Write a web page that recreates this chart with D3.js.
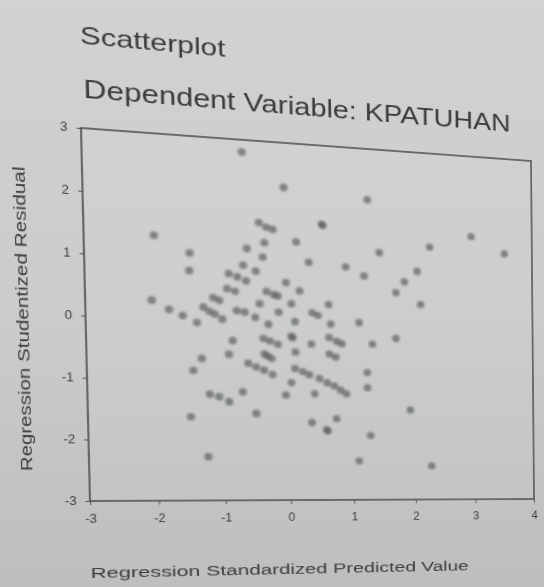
<!DOCTYPE html>
<html>
<head>
<meta charset="utf-8">
<script src="https://cdn.jsdelivr.net/npm/d3@7"></script>
<style>
  html, body { margin: 0; padding: 0; overflow: hidden; }
  body {
    width: 544px; height: 587px;
    background: linear-gradient(to bottom, #d0d3cf 0%, #c9ccc8 55%, #bcbfbb 100%);
    font-family: "Liberation Sans", Arial, sans-serif;
  }
  svg { position: absolute; left: 0; top: 0; transform-origin: 0 0; }
</style>
</head>
<body>
<div id="chart"></div>
<script>
// Regression Standardized Predicted Value (x) / Studentized Residual (y)
const predicted = [
  -0.66, -0.03, 1.28, -1.99, -0.42, -0.31, -0.21, 0.55, 0.57, 0.15,
  -0.34, 2.97, 2.28, 1.46, 3.53, -1.47, -0.61, -0.37, 0.34, 0.92,
  1.21, -1.48, -0.67, -0.48, 2.07, 1.86, 1.72, 2.12, -0.89, -0.76,
  -0.63, -0.02, 0.19, -0.92, -0.80, -0.32, -0.21, -0.15, -2.04, -1.79,
  -1.59, -1.38, -1.28, -1.19, -1.11, -1.13, -1.04, -1.00, -0.78, -0.66,
  -0.50, -0.43, -0.30, -0.14, 0.06, 0.11, 0.38, 0.47, 0.64, 0.67,
  1.12, -0.85, -0.91, -0.38, -0.28, -0.16, 0.05, 0.07, 0.11, 0.36,
  0.64, 0.76, 0.84, -0.37, -0.32, -0.26, 0.64, 0.74, 1.33, 1.71,
  -1.32, -1.45, -0.62, -0.50, -0.38, -0.25, 0.10, 0.22, 0.32, 0.04,
  0.48, 0.60, 0.71, 0.81, 0.90, 1.24, 1.24, -0.71, -1.21, -1.07,
  -0.92, -0.05, 0.40, -0.51, -1.50, 0.35, 0.58, 0.60, 0.74, 1.93,
  1.28, -1.25, 1.09, 2.27
];
const residual = [
  2.80, 2.26, 2.14, 1.35, 1.65, 1.58, 1.55, 1.68, 1.66, 1.36,
  1.32, 1.61, 1.39, 1.25, 1.34, 1.09, 1.21, 1.08, 1.03, 0.98,
  0.84, 0.80, 0.93, 0.84, 0.96, 0.77, 0.58, 0.39, 0.78, 0.73,
  0.67, 0.67, 0.54, 0.53, 0.49, 0.51, 0.46, 0.44, 0.29, 0.15,
  0.06, -0.05, 0.21, 0.14, 0.10, 0.37, 0.33, 0.02, 0.17, 0.15,
  0.07, 0.30, -0.04, 0.17, 0.32, 0.02, 0.18, 0.14, 0.33, 0.00,
  0.04, -0.33, -0.56, -0.28, -0.32, -0.37, -0.23, -0.25, -0.49, -0.35,
  -0.23, -0.29, -0.33, -0.54, -0.57, -0.61, -0.51, -0.56, -0.32, -0.21,
  -0.64, -0.84, -0.70, -0.76, -0.81, -0.88, -0.77, -0.82, -0.87, -1.01,
  -0.93, -1.00, -1.05, -1.12, -1.18, -0.81, -1.07, -1.18, -1.23, -1.27,
  -1.35, -1.22, -1.19, -1.54, -1.61, -1.68, -1.80, -1.82, -1.61, -1.44,
  -1.89, -2.27, -2.33, -2.41
];
const xTicks = [-3, -2, -1, 0, 1, 2, 3, 4];
const yTicks = [-3, -2, -1, 0, 1, 2, 3];

const W = 544, H = 587;
const margin = { top: 128, right: 11, bottom: 87, left: 88 };

const svg = d3.select('#chart').append('svg')
  .attr('width', W)
  .attr('height', H);

const defs = svg.append('defs');
defs.append('filter').attr('id', 'soft')
  .append('feGaussianBlur').attr('stdDeviation', 0.6);
defs.append('filter').attr('id', 'dotblur')
  .append('feGaussianBlur').attr('stdDeviation', 1);

const x = d3.scaleLinear()
  .domain([-3, 4])
  .range([margin.left, W - margin.right]);

const y = d3.scaleLinear()
  .domain([-3, 3])
  .range([H - margin.bottom, margin.top]);

const g = svg.append('g').attr('filter', 'url(#soft)');

// plot frame
g.append('rect')
  .attr('x', x(-3))
  .attr('y', y(3))
  .attr('width', x(4) - x(-3))
  .attr('height', y(-3) - y(3))
  .attr('fill', 'rgba(255,255,255,0.04)')
  .attr('stroke', '#4f524f')
  .attr('stroke-width', 1.6);

// axes, ticks outside, plain integer labels
const fmt = (d) => String(d);
const xAxis = d3.axisBottom(x).tickValues(xTicks).tickFormat(fmt).tickSize(4).tickPadding(9);
const yAxis = d3.axisLeft(y).tickValues(yTicks).tickFormat(fmt).tickSize(4).tickPadding(8);

const gx = g.append('g')
  .attr('transform', `translate(0,${y(-3)})`)
  .call(xAxis);
const gy = g.append('g')
  .attr('transform', `translate(${x(-3)},0)`)
  .call(yAxis);

[gx, gy].forEach((a) => {
  a.select('.domain').remove();
  a.selectAll('line').attr('stroke', '#555855');
  a.selectAll('text')
    .attr('fill', '#3c3e3c')
    .style('font-size', '12px')
    .style('font-family', '"Liberation Sans", Arial, sans-serif');
});

// points
const pts = predicted.map((v, i) => ({ x: v, y: residual[i] }));
g.append('g').attr('filter', 'url(#dotblur)')
  .selectAll('circle')
  .data(pts)
  .enter()
  .append('circle')
  .attr('cx', (d) => x(d.x))
  .attr('cy', (d) => y(d.y))
  .attr('r', 3.9)
  .attr('fill', '#5f635f')
  .attr('fill-opacity', 0.7);

// titles
g.append('text')
  .attr('x', 89).attr('y', 45)
  .attr('fill', '#3a3c3a')
  .attr('textLength', 134).attr('lengthAdjust', 'spacingAndGlyphs')
  .style('font-size', '24px')
  .text('Scatterplot');

g.append('text')
  .attr('x', 91).attr('y', 98)
  .attr('fill', '#3a3c3a')
  .attr('textLength', 420).attr('lengthAdjust', 'spacingAndGlyphs')
  .style('font-size', '25px')
  .text('Dependent Variable: KPATUHAN');

// axis titles
g.append('text')
  .attr('transform', `translate(37,${(y(3) + y(-3)) / 2 + 6}) rotate(-90)`)
  .attr('text-anchor', 'middle')
  .attr('fill', '#3c3e3c')
  .attr('textLength', 300).attr('lengthAdjust', 'spacingAndGlyphs')
  .style('font-size', '15px')
  .text('Regression Studentized Residual');

g.append('text')
  .attr('x', 87).attr('y', 578)
  .attr('fill', '#3c3e3c')
  .attr('textLength', 374).attr('lengthAdjust', 'spacingAndGlyphs')
  .style('font-size', '15px')
  .text('Regression Standardized Predicted Value');

// perspective of the photographed page: map plot frame onto photo corners
function homography(src, dst) {
  const A = [];
  for (let i = 0; i < 4; i++) {
    const [sx, sy] = src[i], [dx, dy] = dst[i];
    A.push([sx, sy, 1, 0, 0, 0, -dx * sx, -dx * sy, dx]);
    A.push([0, 0, 0, sx, sy, 1, -dy * sx, -dy * sy, dy]);
  }
  for (let c = 0; c < 8; c++) {
    let p = c;
    for (let r = c + 1; r < 8; r++) if (Math.abs(A[r][c]) > Math.abs(A[p][c])) p = r;
    [A[c], A[p]] = [A[p], A[c]];
    for (let r = 0; r < 8; r++) {
      if (r === c) continue;
      const f = A[r][c] / A[c][c];
      for (let k = c; k < 9; k++) A[r][k] -= f * A[c][k];
    }
  }
  return A.map((row, i) => row[8] / row[i]);
}

const src = [[x(-3), y(3)], [x(4), y(3)], [x(4), y(-3)], [x(-3), y(-3)]];
const dst = [[81, 128], [531, 161], [534, 499], [90, 501]];
const h = homography(src, dst);
svg.style('transform',
  `matrix3d(${[h[0], h[3], 0, h[6], h[1], h[4], 0, h[7], 0, 0, 1, 0, h[2], h[5], 0, 1].join(',')})`);
</script>
</body>
</html>
